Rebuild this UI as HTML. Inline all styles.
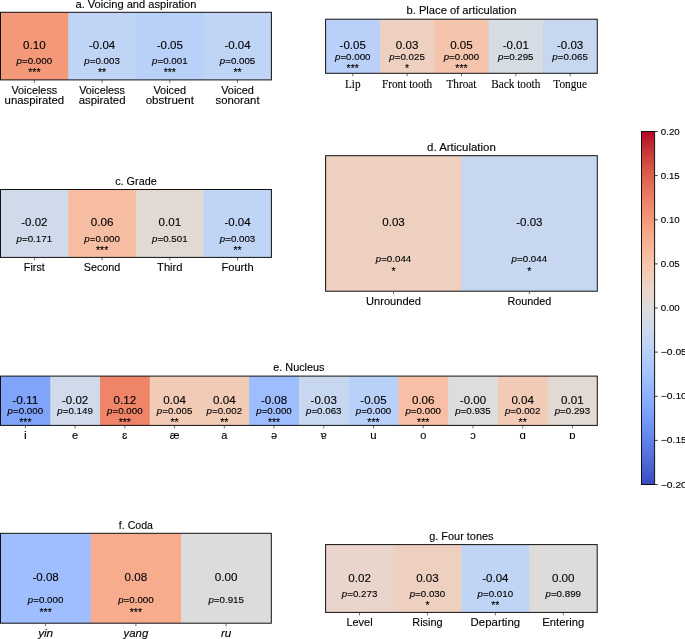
<!DOCTYPE html>
<html><head><meta charset="utf-8"><title>Figure</title>
<style>html,body{margin:0;padding:0;background:#fff;}body{width:685px;height:639px;overflow:hidden;}svg{display:block;will-change:transform;}text{stroke:#000;stroke-width:0.12px;}</style>
</head><body>
<svg width="685" height="639" viewBox="0 0 685 639"><defs><linearGradient id="cb" x1="0" y1="0" x2="0" y2="1"><stop offset="0.0000" stop-color="#b40426"/><stop offset="0.0312" stop-color="#be242e"/><stop offset="0.0625" stop-color="#ca3b37"/><stop offset="0.0938" stop-color="#d44e41"/><stop offset="0.1250" stop-color="#dd5f4b"/><stop offset="0.1562" stop-color="#e46e56"/><stop offset="0.1875" stop-color="#eb7d62"/><stop offset="0.2188" stop-color="#f08b6e"/><stop offset="0.2500" stop-color="#f4987a"/><stop offset="0.2812" stop-color="#f6a586"/><stop offset="0.3125" stop-color="#f7b093"/><stop offset="0.3438" stop-color="#f7ba9f"/><stop offset="0.3750" stop-color="#f5c4ac"/><stop offset="0.4062" stop-color="#f1ccb8"/><stop offset="0.4375" stop-color="#ecd3c5"/><stop offset="0.4688" stop-color="#e5d8d1"/><stop offset="0.5000" stop-color="#dddcdc"/><stop offset="0.5312" stop-color="#d5dbe5"/><stop offset="0.5625" stop-color="#ccd9ed"/><stop offset="0.5938" stop-color="#c3d5f4"/><stop offset="0.6250" stop-color="#b9d0f9"/><stop offset="0.6562" stop-color="#aec9fc"/><stop offset="0.6875" stop-color="#a3c2fe"/><stop offset="0.7188" stop-color="#98b9ff"/><stop offset="0.7500" stop-color="#8db0fe"/><stop offset="0.7812" stop-color="#82a6fb"/><stop offset="0.8125" stop-color="#779af7"/><stop offset="0.8438" stop-color="#6c8ff1"/><stop offset="0.8750" stop-color="#6282ea"/><stop offset="0.9062" stop-color="#5875e1"/><stop offset="0.9375" stop-color="#4e68d8"/><stop offset="0.9688" stop-color="#445acc"/><stop offset="1.0000" stop-color="#3b4cc0"/></linearGradient></defs><g fill="#000"><rect x="0.50" y="12.30" width="68.72" height="67.60" fill="#f4987a"/>
<rect x="68.22" y="12.30" width="68.72" height="67.60" fill="#c0d4f5"/>
<rect x="135.95" y="12.30" width="68.72" height="67.60" fill="#b9d0f9"/>
<rect x="203.67" y="12.30" width="67.72" height="67.60" fill="#c0d4f5"/>
<rect x="0.50" y="12.30" width="270.90" height="67.60" fill="none" stroke="#111" stroke-width="1"/>
<text x="135.95" y="7.55" font-size="10.24" font-family='"Liberation Sans", sans-serif' text-anchor="middle" textLength="120.97" lengthAdjust="spacingAndGlyphs">a. Voicing and aspiration</text>
<text x="34.36" y="49.10" font-size="10.61" font-family='"Liberation Sans", sans-serif' text-anchor="middle" textLength="22.60" lengthAdjust="spacingAndGlyphs">0.10</text>
<text x="34.36" y="63.68" font-size="8.57" font-family='"Liberation Sans", sans-serif' text-anchor="middle" textLength="35.55" lengthAdjust="spacingAndGlyphs"><tspan font-style="italic">p</tspan>=0.000</text>
<text x="34.36" y="75.88" font-size="10.50" font-family='"Liberation Sans", sans-serif' text-anchor="middle" textLength="12.30" lengthAdjust="spacingAndGlyphs">***</text>
<line x1="34.36" y1="79.90" x2="34.36" y2="82.90" stroke="#333" stroke-width="0.7"/>
<text x="34.36" y="93.50" font-size="10.40" font-family='"Liberation Sans", sans-serif' text-anchor="middle" textLength="45.73" lengthAdjust="spacingAndGlyphs">Voiceless</text>
<text x="34.36" y="104.10" font-size="10.40" font-family='"Liberation Sans", sans-serif' text-anchor="middle" textLength="59.50" lengthAdjust="spacingAndGlyphs">unaspirated</text>
<text x="102.09" y="49.10" font-size="10.61" font-family='"Liberation Sans", sans-serif' text-anchor="middle" textLength="26.26" lengthAdjust="spacingAndGlyphs">-0.04</text>
<text x="102.09" y="63.68" font-size="8.57" font-family='"Liberation Sans", sans-serif' text-anchor="middle" textLength="35.55" lengthAdjust="spacingAndGlyphs"><tspan font-style="italic">p</tspan>=0.003</text>
<text x="102.09" y="75.88" font-size="10.50" font-family='"Liberation Sans", sans-serif' text-anchor="middle" textLength="8.20" lengthAdjust="spacingAndGlyphs">**</text>
<line x1="102.09" y1="79.90" x2="102.09" y2="82.90" stroke="#333" stroke-width="0.7"/>
<text x="102.09" y="93.50" font-size="10.40" font-family='"Liberation Sans", sans-serif' text-anchor="middle" textLength="45.73" lengthAdjust="spacingAndGlyphs">Voiceless</text>
<text x="102.09" y="104.10" font-size="10.40" font-family='"Liberation Sans", sans-serif' text-anchor="middle" textLength="46.89" lengthAdjust="spacingAndGlyphs">aspirated</text>
<text x="169.81" y="49.10" font-size="10.61" font-family='"Liberation Sans", sans-serif' text-anchor="middle" textLength="26.26" lengthAdjust="spacingAndGlyphs">-0.05</text>
<text x="169.81" y="63.68" font-size="8.57" font-family='"Liberation Sans", sans-serif' text-anchor="middle" textLength="35.55" lengthAdjust="spacingAndGlyphs"><tspan font-style="italic">p</tspan>=0.001</text>
<text x="169.81" y="75.88" font-size="10.50" font-family='"Liberation Sans", sans-serif' text-anchor="middle" textLength="12.30" lengthAdjust="spacingAndGlyphs">***</text>
<line x1="169.81" y1="79.90" x2="169.81" y2="82.90" stroke="#333" stroke-width="0.7"/>
<text x="169.81" y="93.50" font-size="10.40" font-family='"Liberation Sans", sans-serif' text-anchor="middle" textLength="32.79" lengthAdjust="spacingAndGlyphs">Voiced</text>
<text x="169.81" y="104.10" font-size="10.40" font-family='"Liberation Sans", sans-serif' text-anchor="middle" textLength="48.22" lengthAdjust="spacingAndGlyphs">obstruent</text>
<text x="237.54" y="49.10" font-size="10.61" font-family='"Liberation Sans", sans-serif' text-anchor="middle" textLength="26.26" lengthAdjust="spacingAndGlyphs">-0.04</text>
<text x="237.54" y="63.68" font-size="8.57" font-family='"Liberation Sans", sans-serif' text-anchor="middle" textLength="35.55" lengthAdjust="spacingAndGlyphs"><tspan font-style="italic">p</tspan>=0.005</text>
<text x="237.54" y="75.88" font-size="10.50" font-family='"Liberation Sans", sans-serif' text-anchor="middle" textLength="8.20" lengthAdjust="spacingAndGlyphs">**</text>
<line x1="237.54" y1="79.90" x2="237.54" y2="82.90" stroke="#333" stroke-width="0.7"/>
<text x="237.54" y="93.50" font-size="10.40" font-family='"Liberation Sans", sans-serif' text-anchor="middle" textLength="32.79" lengthAdjust="spacingAndGlyphs">Voiced</text>
<text x="237.54" y="104.10" font-size="10.40" font-family='"Liberation Sans", sans-serif' text-anchor="middle" textLength="44.06" lengthAdjust="spacingAndGlyphs">sonorant</text>
<rect x="325.60" y="19.20" width="55.34" height="54.10" fill="#b9d0f9"/>
<rect x="379.94" y="19.20" width="55.34" height="54.10" fill="#eed0c0"/>
<rect x="434.28" y="19.20" width="55.34" height="54.10" fill="#f5c4ac"/>
<rect x="488.62" y="19.20" width="55.34" height="54.10" fill="#d6dce4"/>
<rect x="542.96" y="19.20" width="54.34" height="54.10" fill="#c7d7f0"/>
<rect x="325.60" y="19.20" width="271.70" height="54.10" fill="none" stroke="#111" stroke-width="1"/>
<text x="461.45" y="13.75" font-size="10.24" font-family='"Liberation Sans", sans-serif' text-anchor="middle" textLength="109.88" lengthAdjust="spacingAndGlyphs">b. Place of articulation</text>
<text x="352.77" y="49.25" font-size="10.61" font-family='"Liberation Sans", sans-serif' text-anchor="middle" textLength="26.26" lengthAdjust="spacingAndGlyphs">-0.05</text>
<text x="352.77" y="59.88" font-size="8.57" font-family='"Liberation Sans", sans-serif' text-anchor="middle" textLength="35.55" lengthAdjust="spacingAndGlyphs"><tspan font-style="italic">p</tspan>=0.000</text>
<text x="352.77" y="72.08" font-size="10.50" font-family='"Liberation Sans", sans-serif' text-anchor="middle" textLength="12.30" lengthAdjust="spacingAndGlyphs">***</text>
<line x1="352.77" y1="73.30" x2="352.77" y2="76.30" stroke="#333" stroke-width="0.7"/>
<text x="352.77" y="88.10" font-size="13.00" font-family='"Liberation Serif", serif' text-anchor="middle" textLength="15.62" lengthAdjust="spacingAndGlyphs">Lip</text>
<text x="407.11" y="49.25" font-size="10.61" font-family='"Liberation Sans", sans-serif' text-anchor="middle" textLength="22.60" lengthAdjust="spacingAndGlyphs">0.03</text>
<text x="407.11" y="59.88" font-size="8.57" font-family='"Liberation Sans", sans-serif' text-anchor="middle" textLength="35.55" lengthAdjust="spacingAndGlyphs"><tspan font-style="italic">p</tspan>=0.025</text>
<text x="407.11" y="72.08" font-size="10.50" font-family='"Liberation Sans", sans-serif' text-anchor="middle" textLength="4.10" lengthAdjust="spacingAndGlyphs">*</text>
<line x1="407.11" y1="73.30" x2="407.11" y2="76.30" stroke="#333" stroke-width="0.7"/>
<text x="407.11" y="88.10" font-size="13.00" font-family='"Liberation Serif", serif' text-anchor="middle" textLength="50.32" lengthAdjust="spacingAndGlyphs">Front tooth</text>
<text x="461.45" y="49.25" font-size="10.61" font-family='"Liberation Sans", sans-serif' text-anchor="middle" textLength="22.60" lengthAdjust="spacingAndGlyphs">0.05</text>
<text x="461.45" y="59.88" font-size="8.57" font-family='"Liberation Sans", sans-serif' text-anchor="middle" textLength="35.55" lengthAdjust="spacingAndGlyphs"><tspan font-style="italic">p</tspan>=0.000</text>
<text x="461.45" y="72.08" font-size="10.50" font-family='"Liberation Sans", sans-serif' text-anchor="middle" textLength="12.30" lengthAdjust="spacingAndGlyphs">***</text>
<line x1="461.45" y1="73.30" x2="461.45" y2="76.30" stroke="#333" stroke-width="0.7"/>
<text x="461.45" y="88.10" font-size="13.00" font-family='"Liberation Serif", serif' text-anchor="middle" textLength="29.99" lengthAdjust="spacingAndGlyphs">Throat</text>
<text x="515.79" y="49.25" font-size="10.61" font-family='"Liberation Sans", sans-serif' text-anchor="middle" textLength="26.26" lengthAdjust="spacingAndGlyphs">-0.01</text>
<text x="515.79" y="59.88" font-size="8.57" font-family='"Liberation Sans", sans-serif' text-anchor="middle" textLength="35.55" lengthAdjust="spacingAndGlyphs"><tspan font-style="italic">p</tspan>=0.295</text>
<line x1="515.79" y1="73.30" x2="515.79" y2="76.30" stroke="#333" stroke-width="0.7"/>
<text x="515.79" y="88.10" font-size="13.00" font-family='"Liberation Serif", serif' text-anchor="middle" textLength="49.05" lengthAdjust="spacingAndGlyphs">Back tooth</text>
<text x="570.13" y="49.25" font-size="10.61" font-family='"Liberation Sans", sans-serif' text-anchor="middle" textLength="26.26" lengthAdjust="spacingAndGlyphs">-0.03</text>
<text x="570.13" y="59.88" font-size="8.57" font-family='"Liberation Sans", sans-serif' text-anchor="middle" textLength="35.55" lengthAdjust="spacingAndGlyphs"><tspan font-style="italic">p</tspan>=0.065</text>
<line x1="570.13" y1="73.30" x2="570.13" y2="76.30" stroke="#333" stroke-width="0.7"/>
<text x="570.13" y="88.10" font-size="13.00" font-family='"Liberation Serif", serif' text-anchor="middle" textLength="33.58" lengthAdjust="spacingAndGlyphs">Tongue</text>
<rect x="0.50" y="189.50" width="68.72" height="67.90" fill="#cfdaea"/>
<rect x="68.22" y="189.50" width="68.72" height="67.90" fill="#f6bda2"/>
<rect x="135.95" y="189.50" width="68.72" height="67.90" fill="#e3d9d3"/>
<rect x="203.67" y="189.50" width="67.72" height="67.90" fill="#c0d4f5"/>
<rect x="0.50" y="189.50" width="270.90" height="67.90" fill="none" stroke="#111" stroke-width="1"/>
<text x="135.95" y="184.75" font-size="10.24" font-family='"Liberation Sans", sans-serif' text-anchor="middle" textLength="41.50" lengthAdjust="spacingAndGlyphs">c. Grade</text>
<text x="34.36" y="226.45" font-size="10.61" font-family='"Liberation Sans", sans-serif' text-anchor="middle" textLength="26.26" lengthAdjust="spacingAndGlyphs">-0.02</text>
<text x="34.36" y="242.02" font-size="8.57" font-family='"Liberation Sans", sans-serif' text-anchor="middle" textLength="35.55" lengthAdjust="spacingAndGlyphs"><tspan font-style="italic">p</tspan>=0.171</text>
<line x1="34.36" y1="257.40" x2="34.36" y2="260.40" stroke="#333" stroke-width="0.7"/>
<text x="34.36" y="271.00" font-size="10.40" font-family='"Liberation Sans", sans-serif' text-anchor="middle" textLength="20.94" lengthAdjust="spacingAndGlyphs">First</text>
<text x="102.09" y="226.45" font-size="10.61" font-family='"Liberation Sans", sans-serif' text-anchor="middle" textLength="22.60" lengthAdjust="spacingAndGlyphs">0.06</text>
<text x="102.09" y="242.02" font-size="8.57" font-family='"Liberation Sans", sans-serif' text-anchor="middle" textLength="35.55" lengthAdjust="spacingAndGlyphs"><tspan font-style="italic">p</tspan>=0.000</text>
<text x="102.09" y="254.22" font-size="10.50" font-family='"Liberation Sans", sans-serif' text-anchor="middle" textLength="12.30" lengthAdjust="spacingAndGlyphs">***</text>
<line x1="102.09" y1="257.40" x2="102.09" y2="260.40" stroke="#333" stroke-width="0.7"/>
<text x="102.09" y="271.00" font-size="10.40" font-family='"Liberation Sans", sans-serif' text-anchor="middle" textLength="36.62" lengthAdjust="spacingAndGlyphs">Second</text>
<text x="169.81" y="226.45" font-size="10.61" font-family='"Liberation Sans", sans-serif' text-anchor="middle" textLength="22.60" lengthAdjust="spacingAndGlyphs">0.01</text>
<text x="169.81" y="242.02" font-size="8.57" font-family='"Liberation Sans", sans-serif' text-anchor="middle" textLength="35.55" lengthAdjust="spacingAndGlyphs"><tspan font-style="italic">p</tspan>=0.501</text>
<line x1="169.81" y1="257.40" x2="169.81" y2="260.40" stroke="#333" stroke-width="0.7"/>
<text x="169.81" y="271.00" font-size="10.40" font-family='"Liberation Sans", sans-serif' text-anchor="middle" textLength="25.38" lengthAdjust="spacingAndGlyphs">Third</text>
<text x="237.54" y="226.45" font-size="10.61" font-family='"Liberation Sans", sans-serif' text-anchor="middle" textLength="26.26" lengthAdjust="spacingAndGlyphs">-0.04</text>
<text x="237.54" y="242.02" font-size="8.57" font-family='"Liberation Sans", sans-serif' text-anchor="middle" textLength="35.55" lengthAdjust="spacingAndGlyphs"><tspan font-style="italic">p</tspan>=0.003</text>
<text x="237.54" y="254.22" font-size="10.50" font-family='"Liberation Sans", sans-serif' text-anchor="middle" textLength="8.20" lengthAdjust="spacingAndGlyphs">**</text>
<line x1="237.54" y1="257.40" x2="237.54" y2="260.40" stroke="#333" stroke-width="0.7"/>
<text x="237.54" y="271.00" font-size="10.40" font-family='"Liberation Sans", sans-serif' text-anchor="middle" textLength="32.06" lengthAdjust="spacingAndGlyphs">Fourth</text>
<rect x="325.60" y="155.70" width="136.85" height="135.50" fill="#eed0c0"/>
<rect x="461.45" y="155.70" width="135.85" height="135.50" fill="#c7d7f0"/>
<rect x="325.60" y="155.70" width="271.70" height="135.50" fill="none" stroke="#111" stroke-width="1"/>
<text x="461.45" y="150.95" font-size="10.24" font-family='"Liberation Sans", sans-serif' text-anchor="middle" textLength="68.85" lengthAdjust="spacingAndGlyphs">d. Articulation</text>
<text x="393.52" y="226.45" font-size="10.61" font-family='"Liberation Sans", sans-serif' text-anchor="middle" textLength="22.60" lengthAdjust="spacingAndGlyphs">0.03</text>
<text x="393.52" y="262.30" font-size="8.57" font-family='"Liberation Sans", sans-serif' text-anchor="middle" textLength="35.55" lengthAdjust="spacingAndGlyphs"><tspan font-style="italic">p</tspan>=0.044</text>
<text x="393.52" y="274.50" font-size="10.50" font-family='"Liberation Sans", sans-serif' text-anchor="middle" textLength="4.10" lengthAdjust="spacingAndGlyphs">*</text>
<line x1="393.52" y1="291.20" x2="393.52" y2="294.20" stroke="#333" stroke-width="0.7"/>
<text x="393.52" y="304.80" font-size="10.40" font-family='"Liberation Sans", sans-serif' text-anchor="middle" textLength="54.91" lengthAdjust="spacingAndGlyphs">Unrounded</text>
<text x="529.38" y="226.45" font-size="10.61" font-family='"Liberation Sans", sans-serif' text-anchor="middle" textLength="26.26" lengthAdjust="spacingAndGlyphs">-0.03</text>
<text x="529.38" y="262.30" font-size="8.57" font-family='"Liberation Sans", sans-serif' text-anchor="middle" textLength="35.55" lengthAdjust="spacingAndGlyphs"><tspan font-style="italic">p</tspan>=0.044</text>
<text x="529.38" y="274.50" font-size="10.50" font-family='"Liberation Sans", sans-serif' text-anchor="middle" textLength="4.10" lengthAdjust="spacingAndGlyphs">*</text>
<line x1="529.38" y1="291.20" x2="529.38" y2="294.20" stroke="#333" stroke-width="0.7"/>
<text x="529.38" y="304.80" font-size="10.40" font-family='"Liberation Sans", sans-serif' text-anchor="middle" textLength="43.92" lengthAdjust="spacingAndGlyphs">Rounded</text>
<rect x="0.50" y="376.10" width="50.73" height="49.30" fill="#81a4fb"/>
<rect x="50.23" y="376.10" width="50.73" height="49.30" fill="#cfdaea"/>
<rect x="99.97" y="376.10" width="50.73" height="49.30" fill="#ee8468"/>
<rect x="149.70" y="376.10" width="50.73" height="49.30" fill="#f2cbb7"/>
<rect x="199.43" y="376.10" width="50.73" height="49.30" fill="#f2cbb7"/>
<rect x="249.17" y="376.10" width="50.73" height="49.30" fill="#9dbdff"/>
<rect x="298.90" y="376.10" width="50.73" height="49.30" fill="#c7d7f0"/>
<rect x="348.63" y="376.10" width="50.73" height="49.30" fill="#b9d0f9"/>
<rect x="398.37" y="376.10" width="50.73" height="49.30" fill="#f6bfa6"/>
<rect x="448.10" y="376.10" width="50.73" height="49.30" fill="#dcdddd"/>
<rect x="497.83" y="376.10" width="50.73" height="49.30" fill="#f2cbb7"/>
<rect x="547.57" y="376.10" width="49.73" height="49.30" fill="#e3d9d3"/>
<rect x="0.50" y="376.10" width="596.80" height="49.30" fill="none" stroke="#111" stroke-width="1"/>
<text x="298.90" y="371.35" font-size="10.24" font-family='"Liberation Sans", sans-serif' text-anchor="middle" textLength="51.26" lengthAdjust="spacingAndGlyphs">e. Nucleus</text>
<text x="25.37" y="403.75" font-size="10.61" font-family='"Liberation Sans", sans-serif' text-anchor="middle" textLength="26.26" lengthAdjust="spacingAndGlyphs">-0.11</text>
<text x="25.37" y="413.74" font-size="8.57" font-family='"Liberation Sans", sans-serif' text-anchor="middle" textLength="35.55" lengthAdjust="spacingAndGlyphs"><tspan font-style="italic">p</tspan>=0.000</text>
<text x="25.37" y="425.94" font-size="10.50" font-family='"Liberation Sans", sans-serif' text-anchor="middle" textLength="12.30" lengthAdjust="spacingAndGlyphs">***</text>
<line x1="25.37" y1="425.40" x2="25.37" y2="428.40" stroke="#333" stroke-width="0.7"/>
<text x="25.37" y="439.00" font-size="10.40" font-family='"Liberation Sans", sans-serif' text-anchor="middle" textLength="2.76" lengthAdjust="spacingAndGlyphs">i</text>
<text x="75.10" y="403.75" font-size="10.61" font-family='"Liberation Sans", sans-serif' text-anchor="middle" textLength="26.26" lengthAdjust="spacingAndGlyphs">-0.02</text>
<text x="75.10" y="413.74" font-size="8.57" font-family='"Liberation Sans", sans-serif' text-anchor="middle" textLength="35.55" lengthAdjust="spacingAndGlyphs"><tspan font-style="italic">p</tspan>=0.149</text>
<line x1="75.10" y1="425.40" x2="75.10" y2="428.40" stroke="#333" stroke-width="0.7"/>
<text x="75.10" y="439.00" font-size="10.40" font-family='"Liberation Sans", sans-serif' text-anchor="middle" textLength="6.12" lengthAdjust="spacingAndGlyphs">e</text>
<text x="124.83" y="403.75" font-size="10.61" font-family='"Liberation Sans", sans-serif' text-anchor="middle" textLength="22.60" lengthAdjust="spacingAndGlyphs">0.12</text>
<text x="124.83" y="413.74" font-size="8.57" font-family='"Liberation Sans", sans-serif' text-anchor="middle" textLength="35.55" lengthAdjust="spacingAndGlyphs"><tspan font-style="italic">p</tspan>=0.000</text>
<text x="124.83" y="425.94" font-size="10.50" font-family='"Liberation Sans", sans-serif' text-anchor="middle" textLength="12.30" lengthAdjust="spacingAndGlyphs">***</text>
<line x1="124.83" y1="425.40" x2="124.83" y2="428.40" stroke="#333" stroke-width="0.7"/>
<text x="124.83" y="439.00" font-size="10.40" font-family='"Liberation Sans", sans-serif' text-anchor="middle" textLength="5.38" lengthAdjust="spacingAndGlyphs">ɛ</text>
<text x="174.57" y="403.75" font-size="10.61" font-family='"Liberation Sans", sans-serif' text-anchor="middle" textLength="22.60" lengthAdjust="spacingAndGlyphs">0.04</text>
<text x="174.57" y="413.74" font-size="8.57" font-family='"Liberation Sans", sans-serif' text-anchor="middle" textLength="35.55" lengthAdjust="spacingAndGlyphs"><tspan font-style="italic">p</tspan>=0.005</text>
<text x="174.57" y="425.94" font-size="10.50" font-family='"Liberation Sans", sans-serif' text-anchor="middle" textLength="8.20" lengthAdjust="spacingAndGlyphs">**</text>
<line x1="174.57" y1="425.40" x2="174.57" y2="428.40" stroke="#333" stroke-width="0.7"/>
<text x="174.57" y="439.00" font-size="10.40" font-family='"Liberation Sans", sans-serif' text-anchor="middle" textLength="9.77" lengthAdjust="spacingAndGlyphs">æ</text>
<text x="224.30" y="403.75" font-size="10.61" font-family='"Liberation Sans", sans-serif' text-anchor="middle" textLength="22.60" lengthAdjust="spacingAndGlyphs">0.04</text>
<text x="224.30" y="413.74" font-size="8.57" font-family='"Liberation Sans", sans-serif' text-anchor="middle" textLength="35.55" lengthAdjust="spacingAndGlyphs"><tspan font-style="italic">p</tspan>=0.002</text>
<text x="224.30" y="425.94" font-size="10.50" font-family='"Liberation Sans", sans-serif' text-anchor="middle" textLength="8.20" lengthAdjust="spacingAndGlyphs">**</text>
<line x1="224.30" y1="425.40" x2="224.30" y2="428.40" stroke="#333" stroke-width="0.7"/>
<text x="224.30" y="439.00" font-size="10.40" font-family='"Liberation Sans", sans-serif' text-anchor="middle" textLength="6.10" lengthAdjust="spacingAndGlyphs">a</text>
<text x="274.03" y="403.75" font-size="10.61" font-family='"Liberation Sans", sans-serif' text-anchor="middle" textLength="26.26" lengthAdjust="spacingAndGlyphs">-0.08</text>
<text x="274.03" y="413.74" font-size="8.57" font-family='"Liberation Sans", sans-serif' text-anchor="middle" textLength="35.55" lengthAdjust="spacingAndGlyphs"><tspan font-style="italic">p</tspan>=0.000</text>
<text x="274.03" y="425.94" font-size="10.50" font-family='"Liberation Sans", sans-serif' text-anchor="middle" textLength="12.30" lengthAdjust="spacingAndGlyphs">***</text>
<line x1="274.03" y1="425.40" x2="274.03" y2="428.40" stroke="#333" stroke-width="0.7"/>
<text x="274.03" y="439.00" font-size="10.40" font-family='"Liberation Sans", sans-serif' text-anchor="middle" textLength="6.12" lengthAdjust="spacingAndGlyphs">ə</text>
<text x="323.77" y="403.75" font-size="10.61" font-family='"Liberation Sans", sans-serif' text-anchor="middle" textLength="26.26" lengthAdjust="spacingAndGlyphs">-0.03</text>
<text x="323.77" y="413.74" font-size="8.57" font-family='"Liberation Sans", sans-serif' text-anchor="middle" textLength="35.55" lengthAdjust="spacingAndGlyphs"><tspan font-style="italic">p</tspan>=0.063</text>
<line x1="323.77" y1="425.40" x2="323.77" y2="428.40" stroke="#333" stroke-width="0.7"/>
<text x="323.77" y="439.00" font-size="10.40" font-family='"Liberation Sans", sans-serif' text-anchor="middle" textLength="5.97" lengthAdjust="spacingAndGlyphs">ɐ</text>
<text x="373.50" y="403.75" font-size="10.61" font-family='"Liberation Sans", sans-serif' text-anchor="middle" textLength="26.26" lengthAdjust="spacingAndGlyphs">-0.05</text>
<text x="373.50" y="413.74" font-size="8.57" font-family='"Liberation Sans", sans-serif' text-anchor="middle" textLength="35.55" lengthAdjust="spacingAndGlyphs"><tspan font-style="italic">p</tspan>=0.000</text>
<text x="373.50" y="425.94" font-size="10.50" font-family='"Liberation Sans", sans-serif' text-anchor="middle" textLength="12.30" lengthAdjust="spacingAndGlyphs">***</text>
<line x1="373.50" y1="425.40" x2="373.50" y2="428.40" stroke="#333" stroke-width="0.7"/>
<text x="373.50" y="439.00" font-size="10.40" font-family='"Liberation Sans", sans-serif' text-anchor="middle" textLength="6.31" lengthAdjust="spacingAndGlyphs">u</text>
<text x="423.23" y="403.75" font-size="10.61" font-family='"Liberation Sans", sans-serif' text-anchor="middle" textLength="22.60" lengthAdjust="spacingAndGlyphs">0.06</text>
<text x="423.23" y="413.74" font-size="8.57" font-family='"Liberation Sans", sans-serif' text-anchor="middle" textLength="35.55" lengthAdjust="spacingAndGlyphs"><tspan font-style="italic">p</tspan>=0.000</text>
<text x="423.23" y="425.94" font-size="10.50" font-family='"Liberation Sans", sans-serif' text-anchor="middle" textLength="12.30" lengthAdjust="spacingAndGlyphs">***</text>
<line x1="423.23" y1="425.40" x2="423.23" y2="428.40" stroke="#333" stroke-width="0.7"/>
<text x="423.23" y="439.00" font-size="10.40" font-family='"Liberation Sans", sans-serif' text-anchor="middle" textLength="6.09" lengthAdjust="spacingAndGlyphs">o</text>
<text x="472.97" y="403.75" font-size="10.61" font-family='"Liberation Sans", sans-serif' text-anchor="middle" textLength="26.26" lengthAdjust="spacingAndGlyphs">-0.00</text>
<text x="472.97" y="413.74" font-size="8.57" font-family='"Liberation Sans", sans-serif' text-anchor="middle" textLength="35.55" lengthAdjust="spacingAndGlyphs"><tspan font-style="italic">p</tspan>=0.935</text>
<line x1="472.97" y1="425.40" x2="472.97" y2="428.40" stroke="#333" stroke-width="0.7"/>
<text x="472.97" y="439.00" font-size="10.40" font-family='"Liberation Sans", sans-serif' text-anchor="middle" textLength="5.47" lengthAdjust="spacingAndGlyphs">ɔ</text>
<text x="522.70" y="403.75" font-size="10.61" font-family='"Liberation Sans", sans-serif' text-anchor="middle" textLength="22.60" lengthAdjust="spacingAndGlyphs">0.04</text>
<text x="522.70" y="413.74" font-size="8.57" font-family='"Liberation Sans", sans-serif' text-anchor="middle" textLength="35.55" lengthAdjust="spacingAndGlyphs"><tspan font-style="italic">p</tspan>=0.002</text>
<text x="522.70" y="425.94" font-size="10.50" font-family='"Liberation Sans", sans-serif' text-anchor="middle" textLength="8.20" lengthAdjust="spacingAndGlyphs">**</text>
<line x1="522.70" y1="425.40" x2="522.70" y2="428.40" stroke="#333" stroke-width="0.7"/>
<text x="522.70" y="439.00" font-size="10.40" font-family='"Liberation Sans", sans-serif' text-anchor="middle" textLength="6.32" lengthAdjust="spacingAndGlyphs">ɑ</text>
<text x="572.43" y="403.75" font-size="10.61" font-family='"Liberation Sans", sans-serif' text-anchor="middle" textLength="22.60" lengthAdjust="spacingAndGlyphs">0.01</text>
<text x="572.43" y="413.74" font-size="8.57" font-family='"Liberation Sans", sans-serif' text-anchor="middle" textLength="35.55" lengthAdjust="spacingAndGlyphs"><tspan font-style="italic">p</tspan>=0.293</text>
<line x1="572.43" y1="425.40" x2="572.43" y2="428.40" stroke="#333" stroke-width="0.7"/>
<text x="572.43" y="439.00" font-size="10.40" font-family='"Liberation Sans", sans-serif' text-anchor="middle" textLength="6.32" lengthAdjust="spacingAndGlyphs">ɒ</text>
<rect x="0.50" y="533.30" width="91.27" height="89.90" fill="#9ebeff"/>
<rect x="90.77" y="533.30" width="91.27" height="89.90" fill="#f7ac8e"/>
<rect x="181.03" y="533.30" width="90.27" height="89.90" fill="#dddcdc"/>
<rect x="0.50" y="533.30" width="270.80" height="89.90" fill="none" stroke="#111" stroke-width="1"/>
<text x="135.90" y="528.55" font-size="10.24" font-family='"Liberation Sans", sans-serif' text-anchor="middle" textLength="34.03" lengthAdjust="spacingAndGlyphs">f. Coda</text>
<text x="45.63" y="581.25" font-size="10.61" font-family='"Liberation Sans", sans-serif' text-anchor="middle" textLength="26.26" lengthAdjust="spacingAndGlyphs">-0.08</text>
<text x="45.63" y="603.42" font-size="8.57" font-family='"Liberation Sans", sans-serif' text-anchor="middle" textLength="35.55" lengthAdjust="spacingAndGlyphs"><tspan font-style="italic">p</tspan>=0.000</text>
<text x="45.63" y="615.62" font-size="10.50" font-family='"Liberation Sans", sans-serif' text-anchor="middle" textLength="12.30" lengthAdjust="spacingAndGlyphs">***</text>
<line x1="45.63" y1="623.20" x2="45.63" y2="626.20" stroke="#333" stroke-width="0.7"/>
<text x="45.63" y="636.80" font-size="10.40" font-family='"Liberation Sans", sans-serif' text-anchor="middle" textLength="14.96" lengthAdjust="spacingAndGlyphs" font-style="italic">yin</text>
<text x="135.90" y="581.25" font-size="10.61" font-family='"Liberation Sans", sans-serif' text-anchor="middle" textLength="22.60" lengthAdjust="spacingAndGlyphs">0.08</text>
<text x="135.90" y="603.42" font-size="8.57" font-family='"Liberation Sans", sans-serif' text-anchor="middle" textLength="35.55" lengthAdjust="spacingAndGlyphs"><tspan font-style="italic">p</tspan>=0.000</text>
<text x="135.90" y="615.62" font-size="10.50" font-family='"Liberation Sans", sans-serif' text-anchor="middle" textLength="12.30" lengthAdjust="spacingAndGlyphs">***</text>
<line x1="135.90" y1="623.20" x2="135.90" y2="626.20" stroke="#333" stroke-width="0.7"/>
<text x="135.90" y="636.80" font-size="10.40" font-family='"Liberation Sans", sans-serif' text-anchor="middle" textLength="24.61" lengthAdjust="spacingAndGlyphs" font-style="italic">yang</text>
<text x="226.17" y="581.25" font-size="10.61" font-family='"Liberation Sans", sans-serif' text-anchor="middle" textLength="22.60" lengthAdjust="spacingAndGlyphs">0.00</text>
<text x="226.17" y="603.42" font-size="8.57" font-family='"Liberation Sans", sans-serif' text-anchor="middle" textLength="35.55" lengthAdjust="spacingAndGlyphs"><tspan font-style="italic">p</tspan>=0.915</text>
<line x1="226.17" y1="623.20" x2="226.17" y2="626.20" stroke="#333" stroke-width="0.7"/>
<text x="226.17" y="636.80" font-size="10.40" font-family='"Liberation Sans", sans-serif' text-anchor="middle" textLength="10.40" lengthAdjust="spacingAndGlyphs" font-style="italic">ru</text>
<rect x="325.60" y="544.60" width="68.90" height="67.80" fill="#e9d5cb"/>
<rect x="393.50" y="544.60" width="68.90" height="67.80" fill="#eed0c0"/>
<rect x="461.40" y="544.60" width="68.90" height="67.80" fill="#c0d4f5"/>
<rect x="529.30" y="544.60" width="67.90" height="67.80" fill="#dedcdb"/>
<rect x="325.60" y="544.60" width="271.60" height="67.80" fill="none" stroke="#111" stroke-width="1"/>
<text x="461.40" y="539.85" font-size="10.24" font-family='"Liberation Sans", sans-serif' text-anchor="middle" textLength="64.27" lengthAdjust="spacingAndGlyphs">g. Four tones</text>
<text x="359.55" y="581.50" font-size="10.61" font-family='"Liberation Sans", sans-serif' text-anchor="middle" textLength="22.60" lengthAdjust="spacingAndGlyphs">0.02</text>
<text x="359.55" y="597.04" font-size="8.57" font-family='"Liberation Sans", sans-serif' text-anchor="middle" textLength="35.55" lengthAdjust="spacingAndGlyphs"><tspan font-style="italic">p</tspan>=0.273</text>
<line x1="359.55" y1="612.40" x2="359.55" y2="615.40" stroke="#333" stroke-width="0.7"/>
<text x="359.55" y="626.00" font-size="10.40" font-family='"Liberation Sans", sans-serif' text-anchor="middle" textLength="26.26" lengthAdjust="spacingAndGlyphs">Level</text>
<text x="427.45" y="581.50" font-size="10.61" font-family='"Liberation Sans", sans-serif' text-anchor="middle" textLength="22.60" lengthAdjust="spacingAndGlyphs">0.03</text>
<text x="427.45" y="597.04" font-size="8.57" font-family='"Liberation Sans", sans-serif' text-anchor="middle" textLength="35.55" lengthAdjust="spacingAndGlyphs"><tspan font-style="italic">p</tspan>=0.030</text>
<text x="427.45" y="609.24" font-size="10.50" font-family='"Liberation Sans", sans-serif' text-anchor="middle" textLength="4.10" lengthAdjust="spacingAndGlyphs">*</text>
<line x1="427.45" y1="612.40" x2="427.45" y2="615.40" stroke="#333" stroke-width="0.7"/>
<text x="427.45" y="626.00" font-size="10.40" font-family='"Liberation Sans", sans-serif' text-anchor="middle" textLength="30.25" lengthAdjust="spacingAndGlyphs">Rising</text>
<text x="495.35" y="581.50" font-size="10.61" font-family='"Liberation Sans", sans-serif' text-anchor="middle" textLength="26.26" lengthAdjust="spacingAndGlyphs">-0.04</text>
<text x="495.35" y="597.04" font-size="8.57" font-family='"Liberation Sans", sans-serif' text-anchor="middle" textLength="35.55" lengthAdjust="spacingAndGlyphs"><tspan font-style="italic">p</tspan>=0.010</text>
<text x="495.35" y="609.24" font-size="10.50" font-family='"Liberation Sans", sans-serif' text-anchor="middle" textLength="8.20" lengthAdjust="spacingAndGlyphs">**</text>
<line x1="495.35" y1="612.40" x2="495.35" y2="615.40" stroke="#333" stroke-width="0.7"/>
<text x="495.35" y="626.00" font-size="10.40" font-family='"Liberation Sans", sans-serif' text-anchor="middle" textLength="49.58" lengthAdjust="spacingAndGlyphs">Departing</text>
<text x="563.25" y="581.50" font-size="10.61" font-family='"Liberation Sans", sans-serif' text-anchor="middle" textLength="22.60" lengthAdjust="spacingAndGlyphs">0.00</text>
<text x="563.25" y="597.04" font-size="8.57" font-family='"Liberation Sans", sans-serif' text-anchor="middle" textLength="35.55" lengthAdjust="spacingAndGlyphs"><tspan font-style="italic">p</tspan>=0.899</text>
<line x1="563.25" y1="612.40" x2="563.25" y2="615.40" stroke="#333" stroke-width="0.7"/>
<text x="563.25" y="626.00" font-size="10.40" font-family='"Liberation Sans", sans-serif' text-anchor="middle" textLength="42.09" lengthAdjust="spacingAndGlyphs">Entering</text>
<rect x="641.5" y="131.5" width="13.100000000000023" height="353.0" fill="url(#cb)" stroke="#111" stroke-width="1"/>
<line x1="654.60" y1="131.50" x2="657.80" y2="131.50" stroke="#111" stroke-width="0.8"/>
<text x="660.80" y="134.60" font-size="8.88" font-family='"Liberation Sans", sans-serif' text-anchor="start" textLength="18.93" lengthAdjust="spacingAndGlyphs">0.20</text>
<line x1="654.60" y1="175.62" x2="657.80" y2="175.62" stroke="#111" stroke-width="0.8"/>
<text x="660.80" y="178.72" font-size="8.88" font-family='"Liberation Sans", sans-serif' text-anchor="start" textLength="18.93" lengthAdjust="spacingAndGlyphs">0.15</text>
<line x1="654.60" y1="219.75" x2="657.80" y2="219.75" stroke="#111" stroke-width="0.8"/>
<text x="660.80" y="222.85" font-size="8.88" font-family='"Liberation Sans", sans-serif' text-anchor="start" textLength="18.93" lengthAdjust="spacingAndGlyphs">0.10</text>
<line x1="654.60" y1="263.88" x2="657.80" y2="263.88" stroke="#111" stroke-width="0.8"/>
<text x="660.80" y="266.98" font-size="8.88" font-family='"Liberation Sans", sans-serif' text-anchor="start" textLength="18.93" lengthAdjust="spacingAndGlyphs">0.05</text>
<line x1="654.60" y1="308.00" x2="657.80" y2="308.00" stroke="#111" stroke-width="0.8"/>
<text x="660.80" y="311.10" font-size="8.88" font-family='"Liberation Sans", sans-serif' text-anchor="start" textLength="18.93" lengthAdjust="spacingAndGlyphs">0.00</text>
<line x1="654.60" y1="352.12" x2="657.80" y2="352.12" stroke="#111" stroke-width="0.8"/>
<text x="660.80" y="355.23" font-size="8.88" font-family='"Liberation Sans", sans-serif' text-anchor="start" textLength="26.05" lengthAdjust="spacingAndGlyphs">−0.05</text>
<line x1="654.60" y1="396.25" x2="657.80" y2="396.25" stroke="#111" stroke-width="0.8"/>
<text x="660.80" y="399.35" font-size="8.88" font-family='"Liberation Sans", sans-serif' text-anchor="start" textLength="26.05" lengthAdjust="spacingAndGlyphs">−0.10</text>
<line x1="654.60" y1="440.38" x2="657.80" y2="440.38" stroke="#111" stroke-width="0.8"/>
<text x="660.80" y="443.48" font-size="8.88" font-family='"Liberation Sans", sans-serif' text-anchor="start" textLength="26.05" lengthAdjust="spacingAndGlyphs">−0.15</text>
<line x1="654.60" y1="484.50" x2="657.80" y2="484.50" stroke="#111" stroke-width="0.8"/>
<text x="660.80" y="487.60" font-size="8.88" font-family='"Liberation Sans", sans-serif' text-anchor="start" textLength="26.05" lengthAdjust="spacingAndGlyphs">−0.20</text></g></svg>
</body></html>
